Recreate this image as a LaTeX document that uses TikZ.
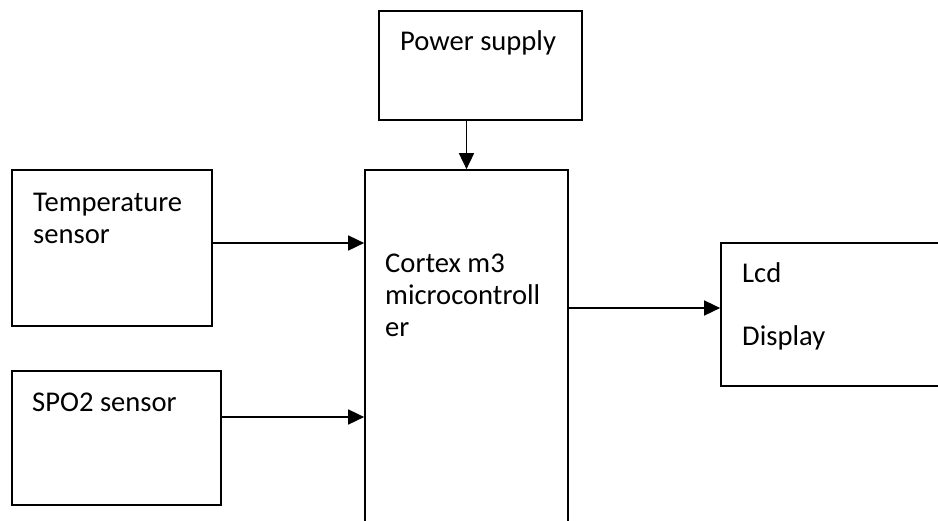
\documentclass[tikz,border=0pt]{standalone}
\usepackage{fontspec}
\setmainfont{Carlito}
\usetikzlibrary{arrows.meta}
\begin{document}
\begin{tikzpicture}[x=1pt,y=-1pt,
  blk/.style={draw=black, line width=1.7pt, rectangle, inner sep=0pt},
  lbl/.style={anchor=base west, inner sep=0pt, align=left, font=\fontsize{28.6}{32}\selectfont},
  arr/.style={draw=black, line width=1.7pt, -{Triangle[length=16pt,width=15pt]}}]
\useasboundingbox (0,0) rectangle (938,520);
% boxes
\node[blk, minimum width=203pt, minimum height=109pt] (power) at (480.5,65.5) {};
\node[blk, minimum width=200pt, minimum height=156pt] (temp) at (112,248) {};
\node[blk, minimum width=209pt, minimum height=134pt] (spo) at (116.5,438) {};
\node[blk, minimum width=203pt, minimum height=360pt] (cortex) at (466.5,350) {};
\node[blk, minimum width=240pt, minimum height=143pt] (lcd) at (841,314.5) {};
% labels (anchored at the baseline of the last line)
\node[lbl] (tpower) at (400,50) {Power supply};
\node[lbl] (ttemp) at (33,243.3) {Temperature\\sensor};
\node[lbl] (tspo) at (32,411) {SPO2 sensor};
\node[lbl] (tcortex) at (385,336.7) {Cortex m3\\microcontroll\\er};
\node[lbl] (tlcd) at (742,345) {Lcd\\[31pt]Display};
% connectors
\draw[arr] (cortex.north |- power.south) -- (cortex.north);
\draw[arr] ([yshift=5pt]temp.east) -- ([yshift=5pt]temp.east -| cortex.west);
\draw[arr] ([yshift=21pt]spo.east) -- ([yshift=21pt]spo.east -| cortex.west);
\draw[arr] ([yshift=6.5pt]lcd.west -| cortex.east) -- ([yshift=6.5pt]lcd.west);
\end{tikzpicture}
\end{document}
